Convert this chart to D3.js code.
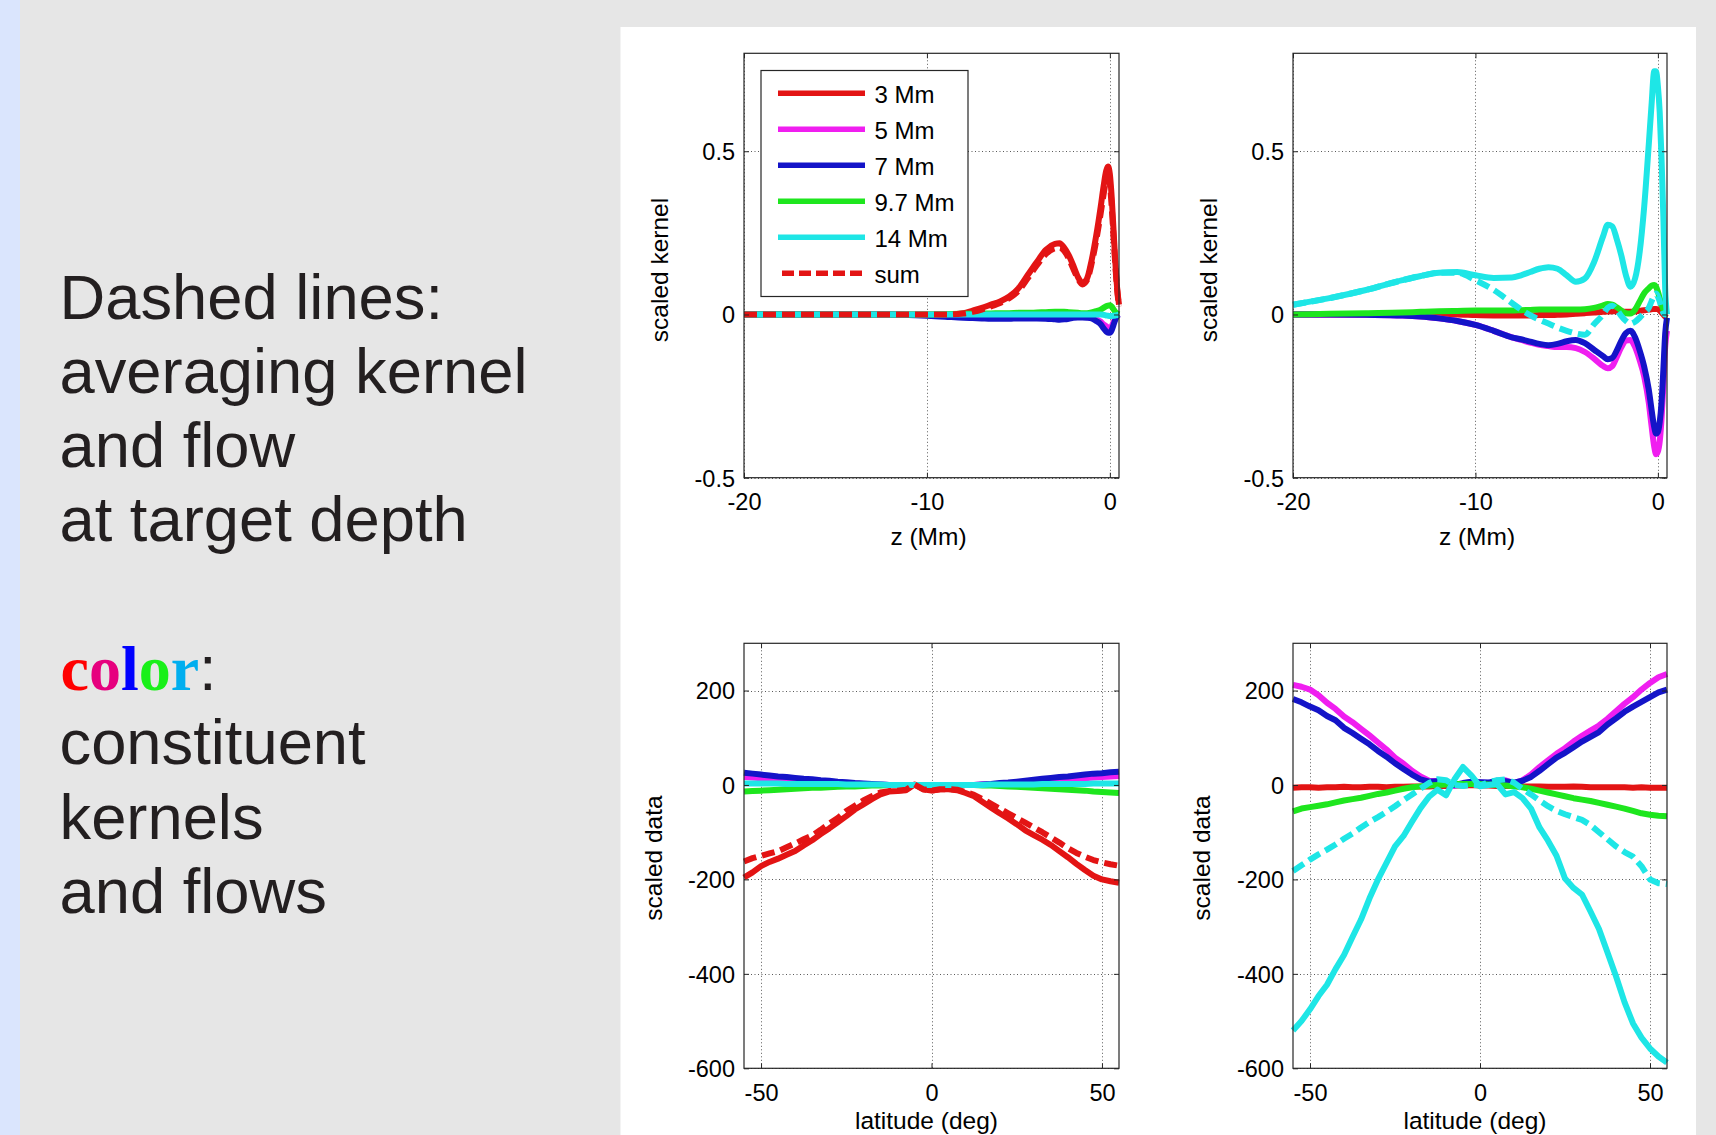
<!DOCTYPE html>
<html><head><meta charset="utf-8">
<script src="https://cdn.jsdelivr.net/npm/d3@7"></script>
<style>
html,body{margin:0;padding:0;background:#e6e6e6;overflow:hidden}
svg{display:block}
</style></head><body>
<svg id="fig" width="1716" height="1135"></svg>
<script>
// ---------------- data ----------------
const seriesNames = ["3 Mm", "5 Mm", "7 Mm", "9.7 Mm", "14 Mm", "sum"];
const seriesColors = ["#e31414", "#f01ef0", "#1414c8", "#1ee61e", "#1ee6e6"];

const introLines = ["Dashed lines:", "averaging kernel", "and flow", "at target depth"];
const colorWord = ["c", "o", "l", "o", "r"];
const colorWordFills = ["#ff0000", "#e6007e", "#0000ff", "#19f019", "#00aeef"];
const outroLines = ["constituent", "kernels", "and flows"];

const zTicks = [-20, -10, 0];
const kernelTicks = [-0.5, 0, 0.5];
const latTicks = [-50, 0, 50];
const flowTicks = [-600, -400, -200, 0, 200];

const zGrid = [-20,-18,-16,-14,-13,-12,-11,-10,-9,-8,-7.5,-7,-6.5,-6,-5.5,-5,-4.5,-4,-3.5,-3,-2.75,-2.5,-2.25,-2,-1.75,-1.5,-1.25,-1,-0.75,-0.5,-0.35,-0.2,-0.1,0,0.1,0.2,0.3,0.4,0.5];

// top-left: kernels, target 3 Mm
const kA3 = [0,0,0,0,0,0,0,0,0,0.004, 0.012,0.02,0.03,0.04,0.055,0.08,0.12,0.16,0.198,0.216, 0.218,0.205,0.182,0.15,0.115,0.097,0.11,0.165,0.24,0.33, 0.39,0.44,0.453,0.43,0.36,0.26,0.16,0.08,0.03];
const kA5 = [0,0,0,0,0,0,-0.001,-0.002,-0.004,-0.006, -0.007,-0.007,-0.008,-0.008,-0.009,-0.009,-0.01,-0.01,-0.011,-0.012, -0.012,-0.011,-0.01,-0.008,-0.007,-0.007,-0.008,-0.01,-0.015,-0.022, -0.03,-0.036,-0.04,-0.042,-0.036,-0.024,-0.012,-0.004,0];
const kA7 = [0,0,0,0,0,0,-0.002,-0.004,-0.007,-0.01, -0.011,-0.012,-0.013,-0.013,-0.013,-0.012,-0.012,-0.012,-0.013,-0.015, -0.016,-0.015,-0.013,-0.01,-0.009,-0.009,-0.01,-0.012,-0.02,-0.03, -0.042,-0.052,-0.056,-0.056,-0.048,-0.032,-0.016,-0.005,0];
const kA97 = [0,0,0,0,0,0,0,0,0.001,0.002, 0.002,0.003,0.003,0.004,0.004,0.005,0.005,0.006,0.007,0.008, 0.008,0.008,0.007,0.006,0.005,0.004,0.004,0.006,0.01,0.015, 0.02,0.025,0.027,0.028,0.024,0.016,0.008,0.003,0];
const kA14 = [0,0,0,0,0,0,0,0,0,0, 0,0,0,0,0,0,0,0,0,0, 0,0,0,0,0,0,0,0,0,0, -0.001,-0.003,-0.004,-0.005,-0.005,-0.004,-0.003,-0.002,0];
const kAsum = [0,0,0,0,0,0,0,0,0,0.003, 0.008,0.015,0.025,0.035,0.05,0.072,0.11,0.15,0.185,0.203, 0.205,0.195,0.172,0.14,0.11,0.092,0.105,0.155,0.225,0.31, 0.365,0.41,0.42,0.4,0.33,0.24,0.15,0.075,0.025];

// top-right: kernels, target 14 Mm
const kB3 = [0,0,0,0,0,0,0,-0.002,-0.003,-0.003, -0.003,-0.003,-0.002,-0.002,-0.001,0,0.002,0.004,0.006,0.008, 0.009,0.01,0.01,0.009,0.008,0.008,0.009,0.011,0.013,0.015, 0.016,0.017,0.017,0.016,0.012,0.006,0,-0.006,-0.01];
const kB5 = [0,0,-0.001,-0.003,-0.006,-0.012,-0.02,-0.032,-0.05,-0.07, -0.078,-0.086,-0.093,-0.097,-0.1,-0.1,-0.103,-0.115,-0.135,-0.158, -0.165,-0.158,-0.13,-0.1,-0.08,-0.078,-0.1,-0.14,-0.19,-0.27, -0.34,-0.405,-0.428,-0.42,-0.39,-0.32,-0.22,-0.1,-0.05];
const kB7 = [0,0,-0.001,-0.003,-0.006,-0.012,-0.02,-0.032,-0.05,-0.07, -0.076,-0.083,-0.09,-0.094,-0.09,-0.082,-0.078,-0.088,-0.108,-0.128, -0.137,-0.133,-0.11,-0.08,-0.057,-0.05,-0.07,-0.11,-0.16,-0.23, -0.29,-0.345,-0.365,-0.36,-0.33,-0.27,-0.17,-0.06,-0.01];
const kB97 = [0,0.002,0.004,0.006,0.008,0.01,0.011,0.012,0.012,0.012, 0.013,0.014,0.015,0.015,0.015,0.015,0.015,0.016,0.02,0.028, 0.032,0.03,0.022,0.012,0.004,0.003,0.015,0.04,0.065,0.08, 0.088,0.09,0.085,0.07,0.05,0.03,0.015,0.005,0];
const kB14 = [0.03,0.05,0.075,0.105,0.118,0.128,0.13,0.12,0.112,0.113, 0.12,0.13,0.14,0.145,0.14,0.12,0.1,0.11,0.16,0.24, 0.275,0.27,0.23,0.18,0.12,0.085,0.11,0.19,0.33,0.52, 0.64,0.745,0.745,0.7,0.62,0.48,0.3,0.08,0];
const kBsum = [0.03,0.05,0.075,0.105,0.118,0.128,0.128,0.105,0.075,0.035, 0.015,-0.002,-0.016,-0.028,-0.04,-0.05,-0.058,-0.062,-0.03,0, 0.02,0.027,0.015,-0.005,-0.02,-0.028,-0.022,-0.01,0.005,0.02, 0.04,0.058,0.064,0.055,0.04,0.02,0.005,0,0];

const latGrid = [-55,-52.5,-50,-47.5,-45,-42.5,-40,-37.5,-35,-32.5,-30,-27.5,-25,-22.5,-20,-17.5,-15,-12.5,-10,-7.5,-5,-2.5,0,2.5,5,7.5,10,12.5,15,17.5,20,22.5,25,27.5,30,32.5,35,37.5,40,42.5,45,47.5,50,52.5,55];

// bottom-left: flows, target 3 Mm
const fA3 = [-196,-185,-172,-163,-156,-148,-140,-128,-117,-104, -92,-79,-66,-52,-41,-30,-20,-14,-13,-11, 1,-9,-12,-9,-9,-11,-17,-24,-36,-48, -60,-71,-83,-96,-106,-116,-127,-140,-153,-167, -180,-192,-200,-204,-207];
const fA5 = [17,16,14,13,12,11,10,9,8,7, 6,5,4,3,2,1,1,0,0,0, 0,0,0,0,0,0,0,0,1,1, 2,3,5,6,7,9,10,11,12,13, 14,16,17,18,19];
const fA7 = [26,24,22,20,18,17,15,13,12,10, 9,7,6,4,3,2,1,0,0,0, 0,0,0,0,0,0,0,0,1,2, 4,5,7,9,11,13,15,17,18,20, 22,24,25,27,28];
const fA97 = [-14,-13,-12,-11,-10,-9,-8,-7,-6,-6, -5,-4,-3,-3,-2,-1,-1,0,0,0, 0,0,0,0,0,0,0,0,-1,-1, -2,-3,-4,-5,-6,-7,-8,-9,-10,-11, -12,-14,-15,-16,-17];
const fA14 = [3,3,3,3,3,2,2,2,2,2, 2,2,1,1,1,1,1,0,0,0, 0,0,0,0,0,0,0,0,0,1, 1,1,1,1,1,2,2,2,2,2, 2,3,3,3,3];
const fAsum = [-162,-155,-150,-145,-140,-132,-124,-115,-107,-95, -82,-70,-55,-44,-33,-24,-16,-13,-12,-10, 1,-9,-12,-9,-9,-10,-15,-21,-30,-40, -50,-60,-70,-80,-90,-100,-111,-122,-134,-144, -152,-159,-164,-168,-171];

// bottom-right: flows, target 14 Mm
const fB3 = [-6,-5,-5,-6,-5,-5,-4,-5,-5,-4, -4,-5,-4,-4,-3,-3,-3,-2,-2,-1, -1,0,-1,-1,-2,-2,-2,-3,-3,-3, -4,-4,-4,-3,-4,-5,-5,-5,-5,-5, -6,-5,-6,-6,-6];
const fB5 = [212,208,202,190,174,161,145,133,119,105, 90,75,58,45,30,18,9,8,2,-2, 3,6,5,4,8,10,4,10,22,38, 52,66,78,92,104,115,126,140,156,172, 186,202,216,228,235];
const fB7 = [182,175,166,158,146,137,121,110,98,86, 72,60,46,34,22,12,7,8,2,0, 4,7,6,5,9,8,5,9,17,30, 44,58,68,80,92,102,112,128,141,155, 166,176,186,196,202];
const fB97 = [-56,-50,-47,-44,-41,-37,-33,-30,-27,-23, -19,-16,-12,-8,-5,-3,-1,0,1,2, 2,2,2,1,0,-1,-3,-5,-8,-12, -16,-20,-24,-28,-31,-34,-38,-42,-46,-50, -55,-60,-63,-65,-66];
const fB14 = [-520,-500,-475,-447,-423,-390,-360,-322,-285,-240, -200,-165,-130,-108,-78,-49,-25,-10,-22,12, 38,20,-3,0,2,-20,-15,-28,-50,-90, -118,-150,-198,-218,-232,-268,-305,-355,-405,-460, -505,-535,-558,-575,-588];
const fBsum = [-182,-170,-158,-147,-137,-126,-114,-103,-90,-78, -68,-57,-45,-32,-20,-8,4,12,10,0, -2,0,-1,6,10,12,5,-8,-20,-33, -45,-55,-62,-68,-74,-85,-100,-115,-130,-142, -152,-172,-200,-208,-210];

// ---------------- drawing ----------------
const SANS = "'Liberation Sans', Arial, Helvetica, sans-serif";
const svg = d3.select("#fig");

svg.append("rect").attr("width", 1716).attr("height", 1135).attr("fill", "#e6e6e6");
svg.append("rect").attr("width", 20).attr("height", 1135).attr("fill", "#dae5fd");
svg.append("rect").attr("x", 620.5).attr("y", 27).attr("width", 1075.5).attr("height", 1120).attr("fill", "#ffffff");

// left text block
const txt = svg.append("g").attr("font-family", SANS).attr("font-size", 63.3).attr("fill", "#231f20");
introLines.forEach((l, i) => txt.append("text").attr("x", 59.5).attr("y", 319 + i * 74).text(l));
const cw = txt.append("text").attr("x", 60.5).attr("y", 690);
colorWord.forEach((c, i) => cw.append("tspan")
  .attr("font-family", "'Liberation Serif', 'Times New Roman', serif")
  .attr("font-weight", "bold").attr("font-size", 64)
  .attr("fill", colorWordFills[i]).text(c));
cw.append("tspan").attr("fill", "#231f20").text(":");
outroLines.forEach((l, i) => txt.append("text").attr("x", 59.5).attr("y", 764 + i * 74.5).text(l));

function panel(o) {
  const x = d3.scaleLinear().domain(o.xDomain).range([o.x0, o.x1]);
  const y = d3.scaleLinear().domain(o.yDomain).range([o.y1, o.y0]);
  const g = svg.append("g");
  g.append("rect").attr("x", o.x0).attr("y", o.y0).attr("width", o.x1 - o.x0).attr("height", o.y1 - o.y0).attr("fill", "#fff");

  const grid = g.append("g").attr("stroke", "#5a5a5a").attr("stroke-width", 1)
    .attr("stroke-dasharray", "1,2.5").attr("fill", "none");
  o.xTicks.forEach(t => grid.append("line").attr("x1", Math.round(x(t)) + 0.5).attr("x2", Math.round(x(t)) + 0.5).attr("y1", o.y0).attr("y2", o.y1));
  o.yTicks.forEach(t => grid.append("line").attr("y1", Math.round(y(t)) + 0.5).attr("y2", Math.round(y(t)) + 0.5).attr("x1", o.x0).attr("x2", o.x1));

  const line = d3.line().x((d, i) => x(o.xs[i])).y(d => y(d)).curve(o.curve);
  o.series.forEach(s => {
    g.append("path").attr("d", line(s.values)).attr("fill", "none")
      .attr("stroke", s.color).attr("stroke-width", 6).attr("stroke-linejoin", "round")
      .attr("stroke-dasharray", s.dashed ? "13,6" : null);
  });

  const fmt = d => String(d);
  const style = sel => {
    sel.select(".domain").remove();
    sel.attr("font-family", SANS).attr("font-size", 23.5);
    sel.selectAll("line").attr("stroke", "#262626");
    sel.selectAll("text").attr("fill", "#000");
  };
  g.append("g").attr("transform", `translate(0,${o.y1})`)
    .call(d3.axisBottom(x).tickValues(o.xTicks).tickSize(-5).tickPadding(16).tickFormat(fmt)).call(style);
  g.append("g").attr("transform", `translate(${o.x0},0)`)
    .call(d3.axisLeft(y).tickValues(o.yTicks).tickSize(-5).tickPadding(9).tickFormat(fmt)).call(style)
    .selectAll("text").attr("dy", "0.36em");
  g.append("g").attr("transform", `translate(0,${o.y0})`)
    .call(d3.axisTop(x).tickValues(o.xTicks).tickSize(-5).tickFormat("")).call(style);
  g.append("g").attr("transform", `translate(${o.x1},0)`)
    .call(d3.axisRight(y).tickValues(o.yTicks).tickSize(-5).tickFormat("")).call(style);

  g.append("rect").attr("x", o.x0).attr("y", o.y0).attr("width", o.x1 - o.x0).attr("height", o.y1 - o.y0)
    .attr("fill", "none").attr("stroke", "#262626").attr("stroke-width", 1.2);

  g.append("text").attr("x", (o.x0 + o.x1) / 2 + o.xLabelShift).attr("y", o.xLabelY)
    .attr("text-anchor", "middle").attr("font-family", SANS).attr("font-size", 24.5).attr("fill", "#000").text(o.xLabel);
  g.append("text").attr("transform", `translate(${o.yLabelX},${o.yLabelY}) rotate(-90)`)
    .attr("text-anchor", "middle").attr("font-family", SANS).attr("font-size", 24.5).attr("fill", "#000").text(o.yLabel);
  return { x, y, g };
}

function mk(vals, dashedColor) {
  const s = vals.slice(0, 5).map((v, i) => ({ values: v, color: seriesColors[i], dashed: false }));
  s.push({ values: vals[5], color: dashedColor, dashed: true });
  return s;
}

const topY0 = 53.3, topY1 = 477.7, botY0 = 643.3, botY1 = 1068.3;
const leftX0 = 744, leftX1 = 1119, rightX0 = 1293, rightX1 = 1667;

const pTL = panel({ x0: leftX0, x1: leftX1, y0: topY0, y1: topY1, xDomain: [-20, 0.5], yDomain: [-0.5, 0.8],
  xTicks: zTicks, yTicks: kernelTicks, xs: zGrid, curve: d3.curveMonotoneX,
  series: mk([kA3, kA5, kA7, kA97, kA14, kAsum], seriesColors[0]),
  xLabel: "z (Mm)", xLabelY: 545, xLabelShift: -3, yLabel: "scaled kernel", yLabelX: 668, yLabelY: 270 });
panel({ x0: rightX0, x1: rightX1, y0: topY0, y1: topY1, xDomain: [-20, 0.5], yDomain: [-0.5, 0.8],
  xTicks: zTicks, yTicks: kernelTicks, xs: zGrid, curve: d3.curveMonotoneX,
  series: mk([kB3, kB5, kB7, kB97, kB14, kBsum], seriesColors[4]),
  xLabel: "z (Mm)", xLabelY: 545, xLabelShift: -3, yLabel: "scaled kernel", yLabelX: 1217, yLabelY: 270 });
panel({ x0: leftX0, x1: leftX1, y0: botY0, y1: botY1, xDomain: [-55, 55], yDomain: [-600, 300],
  xTicks: latTicks, yTicks: flowTicks, xs: latGrid, curve: d3.curveLinear,
  series: mk([fA3, fA5, fA7, fA97, fA14, fAsum], seriesColors[0]),
  xLabel: "latitude (deg)", xLabelY: 1129, xLabelShift: -5, yLabel: "scaled data", yLabelX: 662, yLabelY: 858 });
panel({ x0: rightX0, x1: rightX1, y0: botY0, y1: botY1, xDomain: [-55, 55], yDomain: [-600, 300],
  xTicks: latTicks, yTicks: flowTicks, xs: latGrid, curve: d3.curveLinear,
  series: mk([fB3, fB5, fB7, fB97, fB14, fBsum], seriesColors[4]),
  xLabel: "latitude (deg)", xLabelY: 1129, xLabelShift: -5, yLabel: "scaled data", yLabelX: 1210, yLabelY: 858 });

// legend (top-left panel)
const lg = pTL.g.append("g").attr("font-family", SANS).attr("font-size", 24);
lg.append("rect").attr("x", 761).attr("y", 70.5).attr("width", 207).attr("height", 226)
  .attr("fill", "#fff").attr("stroke", "#262626").attr("stroke-width", 1.2);
seriesNames.forEach((n, i) => {
  const yy = 93.3 + i * 36;
  const isSum = i === 5;
  lg.append("line").attr("x1", isSum ? 782 : 778).attr("x2", 865).attr("y1", yy).attr("y2", yy)
    .attr("stroke", isSum ? seriesColors[0] : seriesColors[i]).attr("stroke-width", 5.5)
    .attr("stroke-dasharray", isSum ? "12,5" : null);
  lg.append("text").attr("x", 874.5).attr("y", yy + 9.5).attr("fill", "#000").text(n);
});
</script>
</body></html>
